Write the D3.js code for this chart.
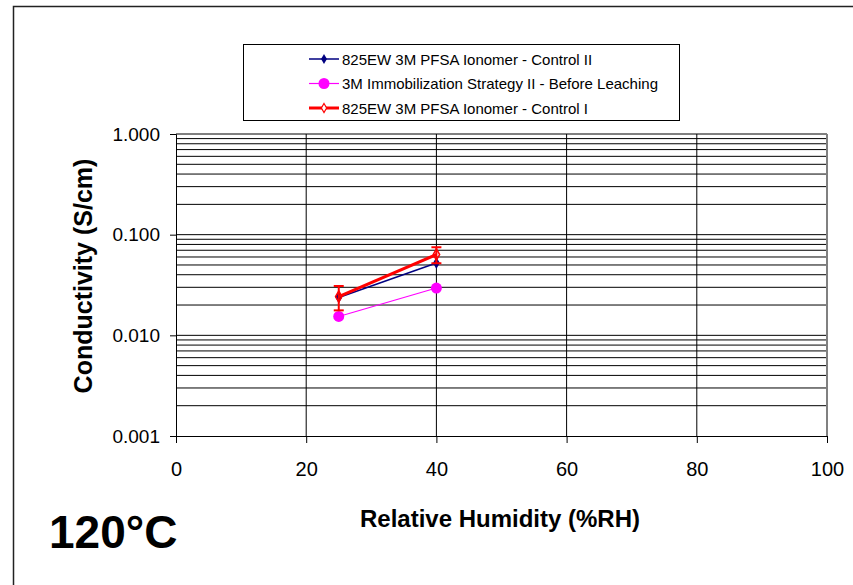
<!DOCTYPE html>
<html>
<head>
<meta charset="utf-8">
<script src="https://cdn.jsdelivr.net/npm/d3@7"></script>
<style>
  body { margin: 0; background: #fff; }
  text { font-family: "Liberation Sans", Arial, sans-serif; }
</style>
</head>
<body>
<div id="chart"></div>
<script>
// values
const rh = [25, 40];
const controlII = [0.0238, 0.0523];
const immobII = [0.0154, 0.0295];
const controlI = [0.0243, 0.0635];
const controlIErr = [0.0066, 0.0115];
const xTicks = [0, 20, 40, 60, 80, 100];
const yMajor = [0.001, 0.01, 0.1, 1];

const width = 853, height = 585;
const svg = d3.select("#chart").append("svg")
  .attr("width", width).attr("height", height);

// outer frame (only top/left visible)
svg.append("rect")
  .attr("x", 13.5).attr("y", 6.5)
  .attr("width", 1000).attr("height", 1000)
  .attr("fill", "none").attr("stroke", "#222").attr("stroke-width", 1.5);

const x = d3.scaleLinear().domain([0, 100]).range([176, 827]);
const y = d3.scaleLog().domain([0.001, 1]).range([436, 134]);

// horizontal grid: every 1..9 x decade
const yGrid = [];
for (let d = 0.001; d < 1; d *= 10) {
  for (let k = 1; k < 10; k++) yGrid.push(+(d * k).toPrecision(3));
}
yGrid.push(1);

const grid = svg.append("g");
grid.selectAll("line.h").data(yGrid.filter(v => v > 0.001)).enter()
  .append("line")
  .attr("x1", x(0)).attr("x2", x(100))
  .attr("y1", d => y(d)).attr("y2", d => y(d))
  .attr("stroke", "#000").attr("stroke-width", 1);

grid.selectAll("line.v").data(xTicks.filter(v => v > 0)).enter()
  .append("line")
  .attr("x1", d => x(d)).attr("x2", d => x(d))
  .attr("y1", y(1)).attr("y2", y(0.001))
  .attr("stroke", d => d === 100 ? "#808080" : "#000").attr("stroke-width", d => d === 100 ? 2 : 1);

// axes
const xAxis = svg.append("g")
  .attr("transform", `translate(0,${y(0.001)})`)
  .call(d3.axisBottom(x).tickValues(xTicks).tickSize(7).tickPadding(19));
xAxis.select(".domain").attr("stroke", "#000");
xAxis.selectAll("text").attr("font-size", 20).attr("fill", "#000")
  .style("font-family", "'Liberation Sans', Arial, sans-serif");

const yAxis = svg.append("g")
  .attr("transform", `translate(${x(0)},0)`)
  .call(d3.axisLeft(y).tickValues(yMajor).tickFormat(d3.format(".3f")).tickSize(6).tickPadding(10));
yAxis.select(".domain").attr("stroke", "#000");
yAxis.selectAll("text").attr("font-size", 19).attr("fill", "#000")
  .style("font-family", "'Liberation Sans', Arial, sans-serif");

// series
const pts = (ys) => rh.map((r, i) => [r, ys[i]]);
const line = d3.line().x(d => x(d[0])).y(d => y(d[1]));

// magenta
svg.append("path").datum(pts(immobII)).attr("d", line)
  .attr("fill", "none").attr("stroke", "#ff00ff").attr("stroke-width", 1.2);
svg.selectAll("circle.m").data(pts(immobII)).enter().append("circle")
  .attr("cx", d => x(d[0])).attr("cy", d => y(d[1])).attr("r", 5.5)
  .attr("fill", "#ff00ff");

// navy
const diamond = d3.symbol().type(d3.symbolDiamond);
svg.append("path").datum(pts(controlII)).attr("d", line)
  .attr("fill", "none").attr("stroke", "#000080").attr("stroke-width", 1.5);
svg.selectAll("path.n").data(pts(controlII)).enter().append("path")
  .attr("d", diamond.size(40)())
  .attr("transform", d => `translate(${x(d[0])},${y(d[1])})`)
  .attr("fill", "#000080");

// red with error bars
const err = rh.map((r, i) => ({ r: r, lo: controlI[i] - controlIErr[i], hi: controlI[i] + controlIErr[i] }));
const eb = svg.append("g").attr("stroke", "#ff0000").attr("stroke-width", 2);
eb.selectAll("line.bar").data(err).enter().append("line")
  .attr("x1", d => x(d.r)).attr("x2", d => x(d.r))
  .attr("y1", d => y(d.lo)).attr("y2", d => y(d.hi));
eb.selectAll("line.top").data(err).enter().append("line")
  .attr("x1", d => x(d.r) - 5).attr("x2", d => x(d.r) + 5)
  .attr("y1", d => y(d.hi)).attr("y2", d => y(d.hi));
eb.selectAll("line.bot").data(err).enter().append("line")
  .attr("x1", d => x(d.r) - 5).attr("x2", d => x(d.r) + 5)
  .attr("y1", d => y(d.lo)).attr("y2", d => y(d.lo));

svg.append("path").datum(pts(controlI)).attr("d", line)
  .attr("fill", "none").attr("stroke", "#ff0000").attr("stroke-width", 3);
svg.selectAll("path.r").data(pts(controlI)).enter().append("path")
  .attr("d", diamond.size(36)())
  .attr("transform", d => `translate(${x(d[0])},${y(d[1])})`)
  .attr("fill", "none").attr("stroke", "#ff0000").attr("stroke-width", 1.5);

// legend
const legendItems = [
  { name: "825EW 3M PFSA Ionomer - Control II", color: "#000080", w: 1.5, mark: "diamond" },
  { name: "3M Immobilization Strategy II - Before Leaching", color: "#ff00ff", w: 1.2, mark: "circle" },
  { name: "825EW 3M PFSA Ionomer - Control I", color: "#ff0000", w: 3, mark: "open" }
];
const lg = svg.append("g");
lg.append("rect").attr("x", 243.5).attr("y", 44.5).attr("width", 436).attr("height", 76)
  .attr("fill", "#fff").attr("stroke", "#000").attr("stroke-width", 1);
const li = lg.selectAll("g.item").data(legendItems).enter().append("g")
  .attr("transform", (d, i) => `translate(0,${59 + i * 24.5})`);
li.append("line").attr("x1", 309).attr("x2", 339)
  .attr("stroke", d => d.color).attr("stroke-width", d => d.w);
li.each(function (d) {
  const g = d3.select(this);
  if (d.mark === "circle") {
    g.append("circle").attr("cx", 324).attr("r", 5.5).attr("fill", d.color);
  } else if (d.mark === "diamond") {
    g.append("path").attr("d", diamond.size(30)()).attr("transform", "translate(324,0)").attr("fill", d.color);
  } else {
    g.append("path").attr("d", diamond.size(24)()).attr("transform", "translate(324,0)")
      .attr("fill", "#fff").attr("stroke", d.color).attr("stroke-width", 1.2);
  }
});
li.append("text").attr("x", 342).attr("y", 5.5).attr("font-size", 15).text(d => d.name);

// titles
svg.append("text").attr("x", 500).attr("y", 527).attr("text-anchor", "middle")
  .attr("font-size", 24).attr("font-weight", "bold").text("Relative Humidity (%RH)");
svg.append("text").attr("transform", "translate(92,276) rotate(-90)").attr("text-anchor", "middle")
  .attr("font-size", 25).attr("font-weight", "bold").text("Conductivity (S/cm)");
svg.append("text").attr("x", 49).attr("y", 548)
  .attr("font-size", 46).attr("font-weight", "bold").text("120°C");
</script>
</body>
</html>
